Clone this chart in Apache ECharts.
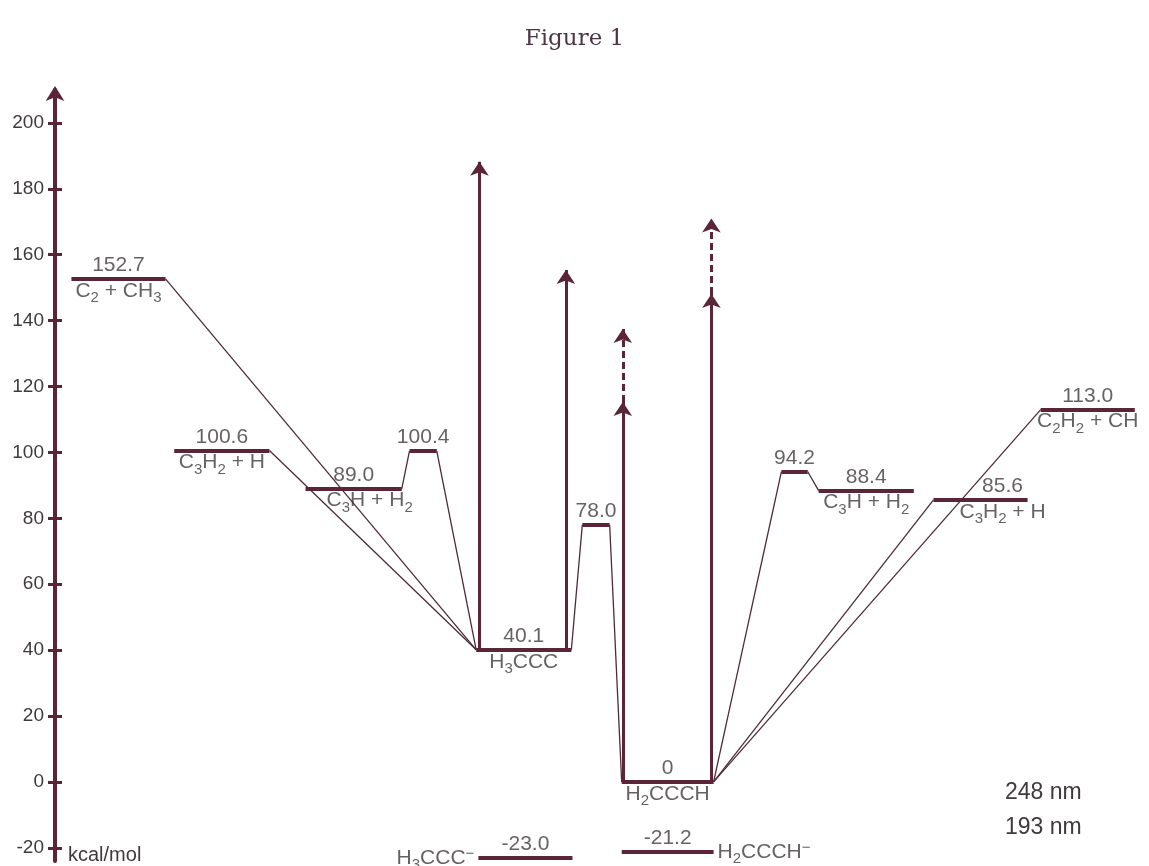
<!DOCTYPE html>
<html>
<head>
<meta charset="utf-8">
<script src="https://cdn.jsdelivr.net/npm/echarts@6/dist/echarts.min.js"></script>
<style>
  html, body { margin: 0; padding: 0; background: #ffffff; }
  #chart { width: 1149px; height: 866px; }
</style>
</head>
<body>
<div id="chart"></div>
<script>
// Energy levels of C3H3 species (kcal/mol, relative to H2CCCH)
const levelNames    = ['C2 + CH3', 'C3H2 + H', 'C3H + H2', '', 'H3CCC', '', 'H2CCCH', '', 'C3H + H2', 'C3H2 + H', 'C2H2 + CH', 'H3CCC⁻', 'H2CCCH⁻'];
const levelEnergies = [152.7, 100.6, 89.0, 100.4, 40.1, 78.0, 0, 94.2, 88.4, 85.6, 113.0, -23.0, -21.2];
const levelText     = ['152.7', '100.6', '89.0', '100.4', '40.1', '78.0', '0', '94.2', '88.4', '85.6', '113.0', '-23.0', '-21.2'];
// extent of each level along the reaction coordinate
const levelFrom     = [1.5, 10.9, 22.9, 32.4, 38.5, 48.2, 51.8, 66.4, 69.8, 80.3, 90.1, 38.7, 51.8];
const levelTo       = [10.1, 19.6, 31.7, 34.9, 47.2, 50.7, 60.2, 68.8, 78.5, 88.9, 98.7, 47.3, 60.2];
// connections: right end of first level -> left end of second level
const linkFrom = [0, 1, 2, 3, 4, 5, 6, 7, 6, 6];
const linkTo   = [4, 4, 3, 4, 5, 6, 7, 8, 9, 10];
// photoexcitation arrows (reaction coordinate, start, end of solid part, end of dashed part)
const pumpX       = [38.8, 46.7, 51.9, 60.0];
const pumpFrom    = [40.1, 40.1, 0, 0];
const pumpTo      = [188.2, 155.4, 115.3, 148.1];
const pumpDashTo  = [null, null, 137.5, 171.0];
// axis ticks
const yTicks = [-20, 0, 20, 40, 60, 80, 100, 120, 140, 160, 180, 200];

const LINE = '#5c2537';
const THIN = '#4d2c38';
const TEXT = '#3f3a3d';
const FONT = '"Liberation Sans", Arial, sans-serif';

function chem(name) {
  return name.replace(/([A-Za-z])(\d+)/g, '$1{s|$2}').replace(/⁻$/, '{p|−}');
}
const richStyles = {
  s: { fontSize: 15, height: 8, verticalAlign: 'bottom', color: TEXT, fontFamily: FONT },
  p: { fontSize: 15, lineHeight: 10, verticalAlign: 'top', color: TEXT, fontFamily: FONT }
};

const levelLines = levelEnergies.map((e, i) => ({ coords: [[levelFrom[i], e], [levelTo[i], e]] }));
const linkLines = linkFrom.map((a, k) => {
  const b = linkTo[k];
  return { coords: [[levelTo[a], levelEnergies[a]], [levelFrom[b], levelEnergies[b]]] };
});
const pumpLines = pumpX.map((x, i) => ({ coords: [[x, pumpFrom[i]], [x, pumpTo[i]]] }));
const dashLines = pumpX.map((x, i) => pumpDashTo[i] == null ? null : ({ coords: [[x, pumpTo[i]], [x, pumpDashTo[i]]] })).filter(Boolean);

// label nudges where a connector crosses the default spot
const valueShift = { 9: [22, 0] };
const nameShift = { 2: [16, 0], 9: [22, 0] };
const sideName = { 11: 'left', 12: 'right' };

const valueLabels = levelEnergies.map((e, i) => ({
  value: [(levelFrom[i] + levelTo[i]) / 2, e],
  text: levelText[i],
  label: { offset: valueShift[i] || [0, 0] }
}));
const nameLabels = [];
levelNames.forEach((n, i) => {
  if (!n) return;
  const side = sideName[i];
  let x = (levelFrom[i] + levelTo[i]) / 2;
  if (side === 'left') x = levelFrom[i];
  if (side === 'right') x = levelTo[i];
  nameLabels.push({
    value: [x, levelEnergies[i]],
    text: chem(n),
    label: { position: side || 'bottom', distance: side ? 4 : 1, offset: nameShift[i] || [0, 0] }
  });
});

const chart = echarts.init(document.getElementById('chart'), null, { renderer: 'canvas' });
chart.setOption({
  backgroundColor: '#ffffff',
  animation: false,
  title: {
    text: 'Figure 1',
    left: 'center',
    top: 23,
    textStyle: { fontFamily: '"DejaVu Serif", serif', fontWeight: 'normal', fontSize: 23, color: '#4b3844' }
  },
  grid: { left: 55, right: 0, top: 90, bottom: 5, outerBoundsMode: 'none' },
  xAxis: { type: 'value', min: 0, max: 100, show: false },
  yAxis: [
    {
      type: 'value', min: -24, max: 210,
      axisLine: { show: true, lineStyle: { color: LINE, width: 4 }, symbol: ['none', 'arrow'], symbolSize: [14, 15], symbolOffset: [0, 4] },
      axisTick: { show: true, length: 7, lineStyle: { color: LINE, width: 3 }, customValues: yTicks },
      axisLabel: { color: TEXT, fontSize: 19, fontFamily: FONT, margin: 11, customValues: yTicks },
      splitLine: { show: false }
    },
    {
      type: 'value', min: -24, max: 210, position: 'left', offset: 0,
      axisLine: { show: true, lineStyle: { color: LINE, width: 4, opacity: 0 } },
      axisTick: { show: true, inside: true, length: 7, lineStyle: { color: LINE, width: 3 }, customValues: yTicks },
      axisLabel: { show: false },
      splitLine: { show: false }
    }
  ],
  series: [
    {
      type: 'lines', coordinateSystem: 'cartesian2d', silent: true, z: 3,
      symbol: 'none',
      lineStyle: { color: THIN, width: 1.3, opacity: 1 },
      data: linkLines
    },
    {
      type: 'lines', coordinateSystem: 'cartesian2d', silent: true, z: 4,
      symbol: 'none',
      lineStyle: { color: LINE, width: 4, opacity: 1, cap: 'butt' },
      data: levelLines
    },
    {
      type: 'lines', coordinateSystem: 'cartesian2d', silent: true, z: 5,
      symbol: ['none', 'arrow'], symbolSize: 14,
      lineStyle: { color: LINE, width: 3, opacity: 1 },
      data: pumpLines
    },
    {
      type: 'lines', coordinateSystem: 'cartesian2d', silent: true, z: 5,
      symbol: ['none', 'arrow'], symbolSize: 14,
      lineStyle: { color: LINE, width: 3, opacity: 1, type: [7, 4] },
      data: dashLines
    },
    {
      type: 'scatter', silent: true, z: 6, symbolSize: 0,
      label: {
        show: true, position: 'top', distance: 3,
        color: TEXT, fontSize: 21, fontFamily: FONT,
        formatter: p => p.data.text
      },
      data: valueLabels
    },
    {
      type: 'scatter', silent: true, z: 6, symbolSize: 0,
      label: {
        show: true, color: TEXT, fontSize: 21, lineHeight: 22, fontFamily: FONT,
        formatter: p => p.data.text,
        rich: richStyles
      },
      data: nameLabels
    }
  ],
  graphic: [
    {
      type: 'text', left: 68, top: 845,
      style: { text: 'kcal/mol', fill: TEXT, fontSize: 20, fontFamily: FONT }
    },
    {
      type: 'text', left: 1005, top: 781,
      style: { text: '248 nm', fill: TEXT, fontSize: 23, fontFamily: FONT }
    },
    {
      type: 'text', left: 1005, top: 816,
      style: { text: '193 nm', fill: TEXT, fontSize: 23, fontFamily: FONT }
    }
  ]
});
</script>
</body>
</html>
